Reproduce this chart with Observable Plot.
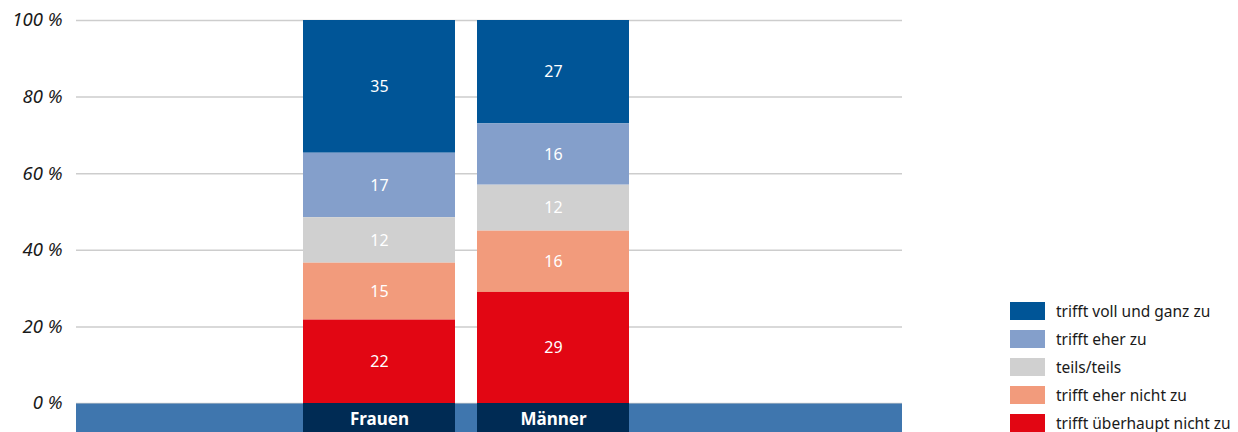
<!DOCTYPE html>
<html>
<head>
<meta charset="utf-8">
<script src="https://cdn.jsdelivr.net/npm/d3@7"></script>
<script src="https://cdn.jsdelivr.net/npm/@observablehq/plot@0.6"></script>
<style>
  html, body { margin: 0; padding: 0; background: #fff; }
  #wrap { position: relative; width: 1238px; height: 432px; overflow: hidden; font-family: "Noto Sans", sans-serif; }
  #legend { position: absolute; left: 1010px; top: 297px; font-size: 15.5px; color: #1a1a1a; }
  #legend .row { display: flex; align-items: center; height: 28px; }
  #legend .sw { width: 35px; height: 18px; margin-right: 11px; flex: none; }
  #legend .row span { line-height: 18px; white-space: nowrap; }
  svg [aria-label="y-axis tick label"] text { font-style: italic; }
</style>
</head>
<body>
<div id="wrap"><div id="chart"></div><div id="legend"></div></div>
<script>
const groups = ["Frauen", "Männer"];
const answers = ["trifft voll und ganz zu", "trifft eher zu", "teils/teils", "trifft eher nicht zu", "trifft überhaupt nicht zu"];
const colors = ["#005597", "#849fcb", "#d0d0d0", "#f29b7c", "#e20613"];
const frauen = [35, 17, 12, 15, 22];
const maenner = [27, 16, 12, 16, 29];
const yTicks = [0, 20, 40, 60, 80, 100];

const series = [frauen, maenner];
const table = groups.flatMap((g, gi) => answers.map((a, ai) => ({group: g, answer: a, value: series[gi][ai]})));
const stackOrder = answers.slice().reverse();

const chart = Plot.plot({
  width: 1238,
  height: 432,
  marginLeft: 76,
  marginRight: 336,
  marginTop: 20,
  marginBottom: 29,
  style: {fontFamily: "Noto Sans, sans-serif", background: "transparent"},
  x: {domain: groups, range: [292, 640], paddingInner: 0.1264, paddingOuter: 0.0632, axis: null},
  y: {domain: [0, 1], axis: null, label: null},
  color: {domain: answers, range: colors},
  marks: [
    Plot.ruleY(yTicks.map(d => d / 100), {stroke: "#cdcdcd", strokeWidth: 1.5}),
    Plot.ruleY([0], {stroke: "#3f76ae", strokeWidth: 29, dy: 14.5}),
    Plot.barY(table, Plot.stackY({offset: "normalize", order: stackOrder, x: "group", y: "value", z: "answer", fill: "answer"})),
    Plot.text(table, Plot.stackY({offset: "normalize", order: stackOrder, x: "group", y: "value", z: "answer", text: d => String(d.value), fill: "white", fontSize: 16})),
    Plot.barY(groups, {x: d => d, y1: 0, y2: 0, insetBottom: -29, fill: "#002b54"}),
    Plot.text(groups, {x: d => d, frameAnchor: "bottom", lineAnchor: "middle", dy: 16, text: d => d, fill: "white", fontSize: 17, fontWeight: "bold"}),
    Plot.axisY({ticks: yTicks.map(d => d / 100), tickFormat: d => `${Math.round(d * 100)} %`, tickSize: 0, tickPadding: 14, fontSize: 18.5, fontStyle: "italic", fill: "#1a1a1a", label: null})
  ]
});
document.getElementById("chart").appendChild(chart);

const legend = document.getElementById("legend");
answers.forEach((a, i) => {
  const row = document.createElement("div");
  row.className = "row";
  const sw = document.createElement("div");
  sw.className = "sw";
  sw.style.background = colors[i];
  const t = document.createElement("span");
  t.textContent = a;
  row.appendChild(sw);
  row.appendChild(t);
  legend.appendChild(row);
});
</script>
</body>
</html>
